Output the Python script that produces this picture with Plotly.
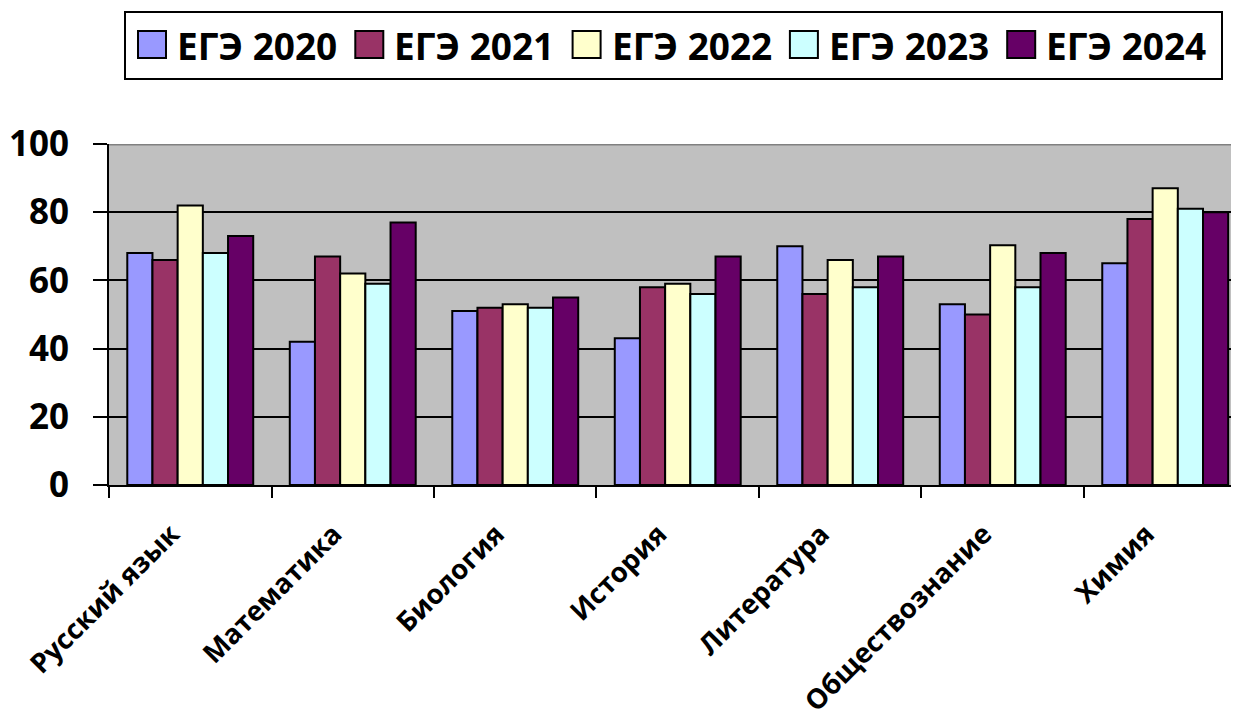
import plotly.graph_objects as go

categories = ["Русский язык", "Математика", "Биология", "История", "Литература", "Обществознание", "Химия"]
series_names = ["ЕГЭ 2020", "ЕГЭ 2021", "ЕГЭ 2022", "ЕГЭ 2023", "ЕГЭ 2024"]
ege_2020 = [68, 42, 51, 43, 70, 53, 65]
ege_2021 = [66, 67, 52, 58, 56, 50, 78]
ege_2022 = [82, 62, 53, 59, 66, 70.3, 87]
ege_2023 = [68, 59, 52, 56, 58, 58, 81]
ege_2024 = [73, 77, 55, 67, 67, 68, 80]
colors = ["#9999FF", "#993366", "#FFFFCC", "#CCFFFF", "#660066"]
y_ticks = [0, 20, 40, 60, 80, 100]

FONT = "Open Sans"

# page-pixel -> paper helpers (plot area spans x 109..1239, y 144..485 on the page)
PX0, PX1, PY0, PY1 = 109, 1239, 485, 144
def px(p):
    return (p - PX0) / (PX1 - PX0)
def py(p):
    return (PY0 - p) / (PY0 - PY1)

fig = go.Figure()
for name, vals, col in zip(series_names, [ege_2020, ege_2021, ege_2022, ege_2023, ege_2024], colors):
    fig.add_trace(go.Bar(
        name=name, x=categories, y=vals,
        marker=dict(color=col, line=dict(color="black", width=2)),
    ))

fig.update_layout(
    width=1231, height=703,
    barmode="group", bargap=0.225, bargroupgap=0,
    plot_bgcolor="#C0C0C0", paper_bgcolor="white",
    margin=dict(l=101, r=0, t=136, b=226, autoexpand=False),
    font=dict(family=FONT, color="black"),
    showlegend=False,
)
fig.update_yaxes(
    range=[0, 100], tickvals=y_ticks, showgrid=True, gridcolor="black", gridwidth=2,
    showline=True, linecolor="black", linewidth=2,
    ticks="outside", ticklen=14, tickwidth=2, tickcolor="black",
    ticklabelstandoff=17,
    tickfont=dict(family=FONT, size=35, color="black", weight="bold"),
    zeroline=False,
)
fig.update_xaxes(
    range=[-0.5, 6.454],
    showline=True, linecolor="black", linewidth=2,
    ticks="outside", tickson="boundaries", ticklen=11, tickwidth=2, tickcolor="black",
    tickangle=-45, ticklabelstandoff=20, ticklabelshift=-19,
    tickfont=dict(family=FONT, size=27.5, color="black", weight="bold"),
)
# grey top border of the plot area
fig.add_shape(type="line", xref="paper", yref="y", x0=0, x1=1, y0=100, y1=100,
              line=dict(color="#808080", width=3), layer="above")

# legend box drawn manually (large swatches as in the original)
fig.add_shape(type="rect", xref="paper", yref="paper",
              x0=px(125), x1=px(1222), y0=py(79), y1=py(12),
              line=dict(color="black", width=2), fillcolor="white")
for i, (name, col) in enumerate(zip(series_names, colors)):
    x0 = 138 + 217.3 * i
    fig.add_shape(type="rect", xref="paper", yref="paper",
                  x0=px(x0), x1=px(x0 + 28), y0=py(58), y1=py(31),
                  line=dict(color="black", width=2), fillcolor=col)
    fig.add_annotation(xref="paper", yref="paper", x=px(x0 + 37), y=py(45),
                       text=name, showarrow=False, xanchor="left", yanchor="middle",
                       font=dict(family=FONT, size=37, color="black", weight="bold"))

fig.write_html("out.html")
